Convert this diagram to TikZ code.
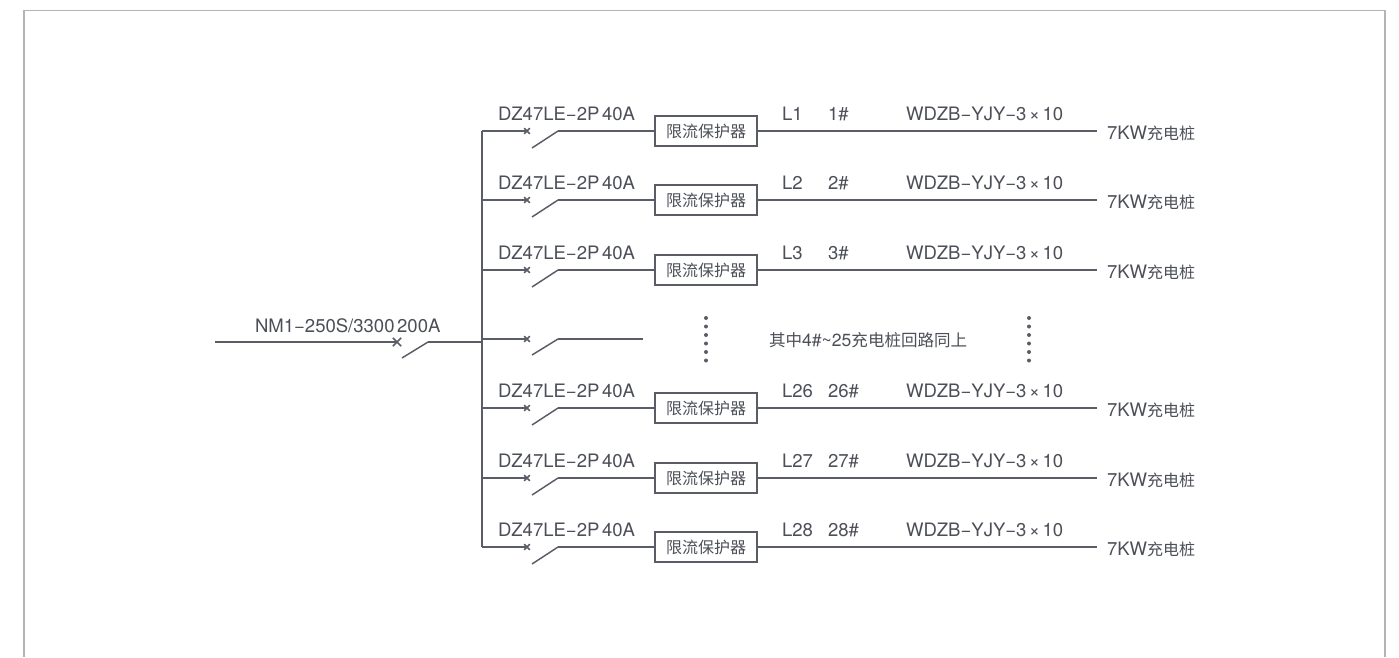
\documentclass[tikz,border=0pt]{standalone}
\usepackage{fontspec}
\setmainfont{TeX Gyre Heros}
\newfontfamily\cjk{Noto Sans CJK SC}
\definecolor{wire}{HTML}{5A5D66}
\definecolor{ink}{HTML}{4C4F57}
\definecolor{framec}{HTML}{B4B4B4}
\tikzset{
  x=0.75pt,y=-0.75pt,
  wireline/.style={draw=wire,line width=1.15pt},
  thinwire/.style={draw=wire,line width=1.1pt},
  crossmark/.style={draw=wire,line width=1.1pt},
  lbl/.style={inner sep=0pt,outer sep=0pt,text=ink,anchor=base west,font=\fontsize{13.9pt}{16pt}\selectfont},
  cjklbl/.style={inner sep=0pt,outer sep=0pt,text=ink,font=\fontsize{12.4pt}{14pt}\selectfont\cjk},
  limiter/.style={draw=wire,line width=1pt,fill=white,minimum width=76.5pt,minimum height=22.5pt,inner sep=0pt,text=ink,font=\fontsize{12pt}{14pt}\selectfont\cjk},
  dotmark/.style={circle,fill=wire,inner sep=0pt,minimum size=3pt},
}
\newcommand{\xmark}[3]{\draw[crossmark] (#1-#3,#2-#3) -- (#1+#3,#2+#3) (#1-#3,#2+#3) -- (#1+#3,#2-#3);}
\newcommand{\tsp}{\hspace{0.14em}}
\begin{document}
\begin{tikzpicture}
\useasboundingbox (0,0) rectangle (1399,657);
% frame
\coordinate (fa) at (24,657);
\coordinate (fb) at (24,10.5);
\coordinate (fc) at (1385,10.5);
\coordinate (fd) at (1385,657);
\draw[draw=framec,line width=0.9pt] (fa) -- (fb) -- (fc) -- (fd);
% incoming
\coordinate (inA) at (215,342);
\coordinate (inB) at (397,342);
\coordinate (inC) at (402,358);
\coordinate (inD) at (428,342);
\coordinate (busT) at (482,131);
\coordinate (busB) at (482,547);
\coordinate (busM) at (482,342);
\draw[wireline] (busT) -- (busB);
\draw[wireline] (inA) -- (inB);
\draw[thinwire] (inC) -- (inD);
\draw[wireline] (inD) -- (busM);
\xmark{397}{342}{4.2}
\node[lbl] (mainlbl) at (255,332) {NM1−250S/3300\tsp 200A};
% branches
\foreach \n/\y/\la/\lb in {a/131/L1/1\#,b/200/L2/2\#,c/270/L3/3\#,e/408/L26/26\#,f/478/L27/27\#,g/547/L28/28\#}{
  \coordinate (s\n) at (482,\y);
  \coordinate (x\n) at (527,\y);
  \coordinate (p\n) at (532,\y+17);
  \coordinate (q\n) at (558,\y);
  \coordinate (r\n) at (1097,\y);
  \node[limiter] (box\n) at (706,\y) {限流保护器};
  \draw[thinwire] (s\n) -- (x\n);
  \draw[thinwire] (p\n) -- (q\n);
  \draw[thinwire] (q\n) -- (box\n.west);
  \draw[thinwire] (box\n.east) -- (r\n);
  \xmark{527}{\y}{2.8}
  \node[lbl] (br\n) at (498,\y-10.5) {DZ47LE−2P\tsp 40A};
  \node[lbl] (la\n) at (782,\y-10.5) {\la};
  \node[lbl] (lb\n) at (828,\y-10.5) {\lb};
  \node[lbl] (ca\n) at (906,\y-10.5) {WDZB−YJY−3\tsp ×\tsp 10};
  \node[lbl,anchor=west] (ch\n) at (1107,\y+2) {7KW{\cjk\fontsize{12pt}{14pt}\selectfont 充电桩}};
}
% middle
\coordinate (sd) at (482,339);
\coordinate (xd) at (527,339);
\coordinate (pd) at (532,355);
\coordinate (qd) at (558,339);
\coordinate (rd) at (643,339);
\draw[thinwire] (sd) -- (xd);
\draw[thinwire] (pd) -- (qd);
\draw[thinwire] (qd) -- (rd);
\xmark{527}{339}{2.8}
\node[cjklbl,anchor=west] (note) at (769,340) {其中{\rmfamily\fontsize{13.2pt}{14pt}\selectfont 4\#\textasciitilde 25}充电桩回路同上};
\foreach \i in {0,...,5}{
  \node[dotmark] (dl\i) at (706,318+8.5*\i) {};
  \node[dotmark] (dr\i) at (1029,318+8.5*\i) {};
}
\end{tikzpicture}
\end{document}
